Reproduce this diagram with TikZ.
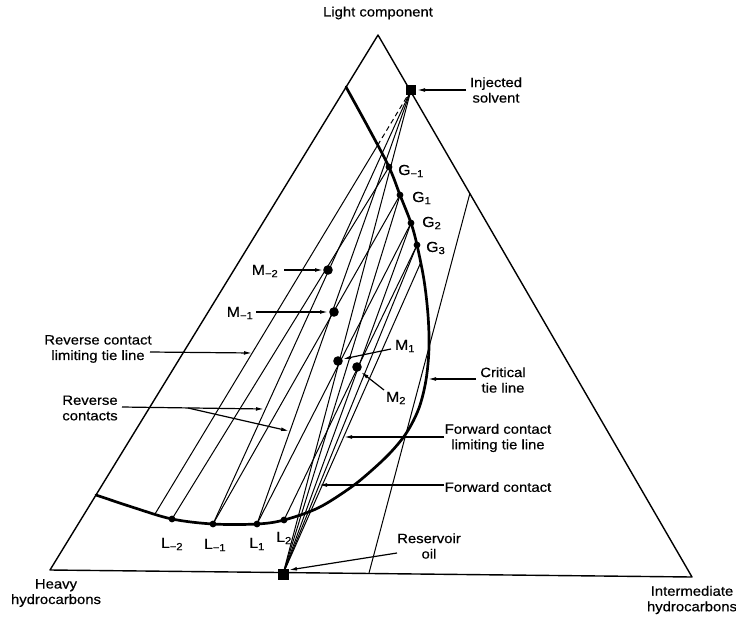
\documentclass[tikz,border=0pt]{standalone}
\usepackage{fontspec}
\setmainfont{Liberation Sans}[FakeStretch=1.1, FakeBold=0.5]
\usetikzlibrary{arrows.meta}
\begin{document}
\begin{tikzpicture}[x=1pt,y=-1pt,
  edge/.style={line width=1.4pt, line join=round},
  bin/.style={line width=2.7pt, line join=round, line cap=round},
  tie/.style={line width=1pt},
  arr/.style={line width=1.2pt, -{Latex[length=8pt,width=3.8pt]}},
  lbl/.style={font=\fontsize{13.5}{15.5}\selectfont, align=center, inner sep=0pt},
  sub/.style={font=\fontsize{14.5}{16}\selectfont, inner sep=0pt},
  sq/.style={fill=black, draw=black, minimum size=9pt, inner sep=0pt, shape=rectangle}]
\useasboundingbox (0,0) rectangle (736,616);
% triangle vertices
\coordinate (A) at (378,35);
\coordinate (B) at (50,570);
\coordinate (C) at (692,577);
% key points
\coordinate (S) at (411,90);
\coordinate (O) at (283,574);
\coordinate (Gm1) at (389,167);
\coordinate (G1) at (400,195);
\coordinate (G2) at (411,223);
\coordinate (G3) at (417,245);
\coordinate (Lm2) at (172,519);
\coordinate (Lm1) at (213,524);
\coordinate (L1) at (257,524);
\coordinate (L2) at (284,520);
\coordinate (Mm2) at (328,270);
\coordinate (Mm1) at (334,312);
\coordinate (M1) at (338,361);
\coordinate (M2) at (357,367);
\coordinate (RT) at (379,143);
\coordinate (RB) at (155,514);
\coordinate (FT) at (421,262);
\coordinate (CT) at (470,193);
\coordinate (CB) at (369,573);
% triangle
\draw[edge] (A) -- (B) -- (C) -- cycle;
% binodal curve
\draw[bin] plot[smooth, tension=0.55] coordinates {(346,87) (368,127) (389,167) (400,195) (411,223) (417,245) (424,280) (428,315) (429,348) (426,380) (419,408) (407,432) (391,452) (371,471) (350,488) (318,508) (284,520) (257,524) (213,524) (172,519) (135,508) (96,495)};
% reverse contact limiting tie line and its extension
\draw[tie, dash pattern=on 5pt off 3.5pt] (S) -- (RT);
\draw[tie] (RT) -- (RB);
% mixing lines from solvent
\draw[tie] (S) -- (Lm1);
\draw[tie] (S) -- (L1);
\draw[tie] (S) -- (O);
% tie lines
\draw[tie] (Lm2) -- (Gm1);
\draw[tie] (Lm1) -- (G1);
\draw[tie] (L1) -- (G2);
\draw[tie] (L2) -- (G3);
% forward contact lines from reservoir oil
\draw[tie] (O) -- (G1);
\draw[tie] (O) -- (G2);
\draw[tie] (O) -- (G3);
\draw[tie] (O) -- (FT);
% critical tie line
\draw[tie] (CT) -- (CB);
% dots
\foreach \p in {Gm1,G1,G2,G3,Lm2,Lm1,L1,L2} \fill (\p) circle[radius=3.4pt];
\foreach \p in {Mm2,Mm1,M1,M2} \fill (\p) circle[radius=4.8pt];
\node[sq] (Sq) at (S) {};
\node[sq, minimum size=10pt] (Oq) at (O) {};
% labels
\node[lbl] (tLight) at (378,13) {Light component};
\node[lbl] (tInj) at (496,90) {Injected\\solvent};
\node[lbl] (tCrit) at (503,380) {Critical\\tie line};
\node[lbl] (tFwdL) at (498,438) {Forward contact\\limiting tie line};
\node[lbl] (tFwd) at (498,487) {Forward contact};
\node[lbl] (tRes) at (429,546) {Reservoir\\oil};
\node[lbl] (tHeavy) at (56,593) {Heavy\\hydrocarbons};
\node[lbl] (tInter) at (692,600) {Intermediate\\hydrocarbons};
\node[lbl] (tRevL) at (98,349) {Reverse contact\\limiting tie line};
\node[lbl] (tRevC) at (90,408) {Reverse\\contacts};
\node[sub] (tMm2) at (265,271) {M\textsubscript{−2}};
\node[sub] (tMm1) at (240,313) {M\textsubscript{−1}};
\node[sub] (tM1) at (405,346) {M\textsubscript{1}};
\node[sub] (tM2) at (396,398) {M\textsubscript{2}};
\node[sub, anchor=west] (tGm1) at (398,171) {G\textsubscript{−1}};
\node[sub, anchor=west] (tG1) at (412,198) {G\textsubscript{1}};
\node[sub, anchor=west] (tG2) at (422,223) {G\textsubscript{2}};
\node[sub, anchor=west] (tG3) at (426,248) {G\textsubscript{3}};
\node[sub] (tLm2) at (172,544) {L\textsubscript{−2}};
\node[sub] (tLm1) at (215,545) {L\textsubscript{−1}};
\node[sub] (tL1) at (257,544) {L\textsubscript{1}};
\node[sub] (tL2) at (284,538) {L\textsubscript{2}};
% arrow tails and tips
\coordinate (aInj) at (466,90);   \coordinate (hInj) at (417,90);
\coordinate (aCrit) at (476,379); \coordinate (hCrit) at (428,379);
\coordinate (aFwdL) at (444,437); \coordinate (hFwdL) at (344,437);
\coordinate (aFwd) at (444,485);  \coordinate (hFwd) at (319,485);
\coordinate (aRes) at (397,553);  \coordinate (hRes) at (289,570);
\coordinate (aRevL) at (150,352); \coordinate (hRevL) at (252,353);
\coordinate (aRevC) at (122,407); \coordinate (hRevC1) at (264,409);
\coordinate (bRevC) at (188,408); \coordinate (hRevC2) at (289,431);
\coordinate (aMm2) at (284,270);  \coordinate (hMm2) at (323,270);
\coordinate (aMm1) at (256,312);  \coordinate (hMm1) at (328,312);
\coordinate (aM1) at (391,349);   \coordinate (hM1) at (343,359);
\coordinate (aM2) at (384,390);   \coordinate (hM2) at (361,372);
\draw[arr] (aInj) -- (hInj);
\draw[arr] (aCrit) -- (hCrit);
\draw[arr] (aFwdL) -- (hFwdL);
\draw[arr] (aFwd) -- (hFwd);
\draw[arr] (aRes) -- (hRes);
\draw[arr] (aRevL) -- (hRevL);
\draw[arr] (aRevC) -- (hRevC1);
\draw[arr] (bRevC) -- (hRevC2);
\draw[arr] (aMm2) -- (hMm2);
\draw[arr] (aMm1) -- (hMm1);
\draw[arr] (aM1) -- (hM1);
\draw[arr] (aM2) -- (hM2);
\end{tikzpicture}
\end{document}
